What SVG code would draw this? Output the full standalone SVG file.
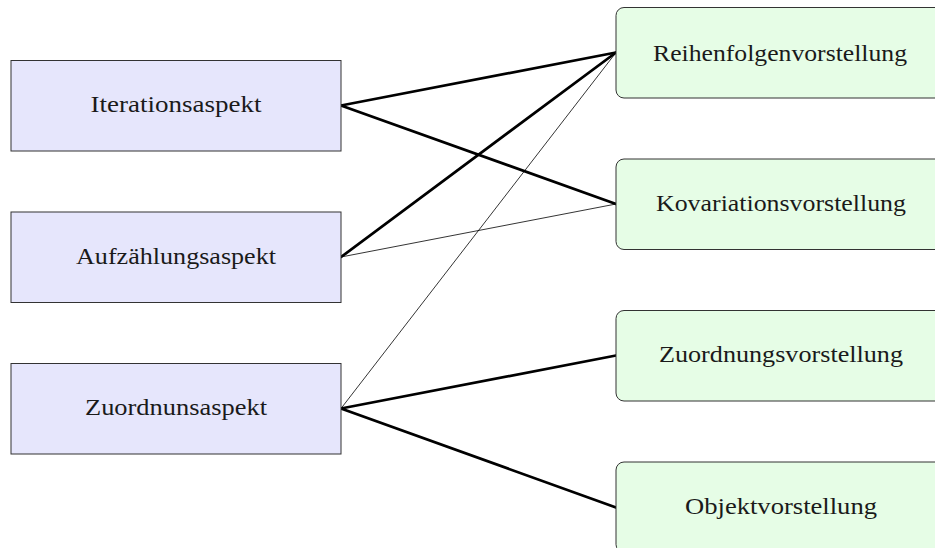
<svg xmlns="http://www.w3.org/2000/svg" width="935" height="548" viewBox="0 0 935 548">
<style>
.l{fill:#e6e6fc;stroke:#333;stroke-width:1}
.r{fill:#e6fde6;stroke:#333;stroke-width:1}
text{font-family:"Liberation Serif","DejaVu Serif",serif;font-size:23.5px;fill:#1a1a1a;text-anchor:middle}
.thick{stroke:#000;stroke-width:2.8;fill:none;stroke-linecap:round}
.thin{stroke:#000;stroke-width:0.8;fill:none}
</style>
<rect width="935" height="548" fill="#fff"/>
<g id="connectors">
<line class="thick" x1="341" y1="105.5" x2="616" y2="52.5"/>
<line class="thick" x1="341" y1="105.5" x2="616" y2="204"/>
<line class="thick" x1="341" y1="257" x2="616" y2="52.5"/>
<line class="thin" x1="341" y1="257" x2="616" y2="204"/>
<line class="thin" x1="341" y1="408.5" x2="616" y2="52.5"/>
<line class="thick" x1="341" y1="408.5" x2="616" y2="355.5"/>
<line class="thick" x1="341" y1="408.5" x2="616" y2="507.5"/>
</g>
<g id="iteration"><rect class="l" x="11" y="60.5" width="330" height="90.5"/><text x="176" y="112" textLength="171" lengthAdjust="spacingAndGlyphs">Iterationsaspekt</text></g>
<g id="aufzaehlung"><rect class="l" x="11" y="212" width="330" height="90.5"/><text x="176" y="264" textLength="200" lengthAdjust="spacingAndGlyphs">Aufzählungsaspekt</text></g>
<g id="zuordnun"><rect class="l" x="11" y="363.5" width="330" height="90.5"/><text x="176" y="415" textLength="182" lengthAdjust="spacingAndGlyphs">Zuordnunsaspekt</text></g>
<g id="reihenfolgen"><rect class="r" x="616" y="7.5" width="328" height="90.5" rx="8"/><text x="780" y="61" textLength="254" lengthAdjust="spacingAndGlyphs">Reihenfolgenvorstellung</text></g>
<g id="kovariation"><rect class="r" x="616" y="159" width="328" height="90.5" rx="8"/><text x="781" y="211" textLength="250" lengthAdjust="spacingAndGlyphs">Kovariationsvorstellung</text></g>
<g id="zuordnungs"><rect class="r" x="616" y="310.5" width="328" height="90.5" rx="8"/><text x="781" y="362" textLength="244" lengthAdjust="spacingAndGlyphs">Zuordnungsvorstellung</text></g>
<g id="objekt"><rect class="r" x="616" y="462" width="328" height="90.5" rx="8"/><text x="781" y="514" textLength="192" lengthAdjust="spacingAndGlyphs">Objektvorstellung</text></g>
</svg>
